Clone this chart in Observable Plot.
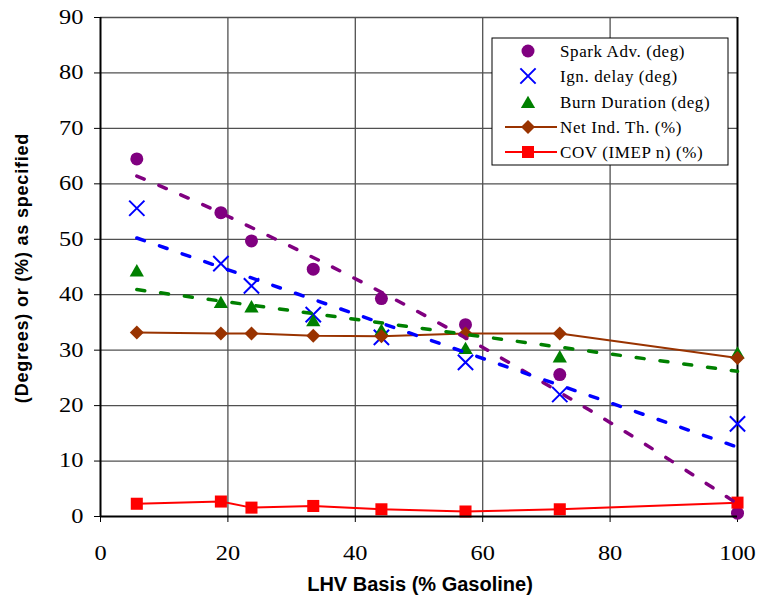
<!DOCTYPE html>
<html><head><meta charset="utf-8">
<script src="https://cdn.jsdelivr.net/npm/d3@7"></script>
<script src="https://cdn.jsdelivr.net/npm/@observablehq/plot@0.6"></script>
<style>body{margin:0;background:#fff} #chart{width:759px;height:599px}</style>
</head><body><div id="chart"></div>
<script>
// ---- data ----
const lhv = [5.7, 18.9, 23.7, 33.4, 44.1, 57.3, 72.1, 100];
const sparkAdv = [64.5, 54.8, 49.7, 44.6, 39.3, 34.6, 25.6, 0.6];
const ignDelay = [55.6, 45.6, 41.6, 36.4, 32.3, 27.8, 22.0, 16.7];
const burnDuration = [44.4, 38.7, 37.9, 35.4, 33.7, 30.4, 28.9, 29.6];
const netIndTh = [33.2, 33.0, 33.0, 32.6, 32.5, 33.0, 33.0, 28.6];
const covImep = [2.3, 2.7, 1.6, 1.9, 1.3, 0.9, 1.3, 2.5];
// polynomial trend line of spark advance
const sparkTrendX = [5.7, 15, 25, 35, 45, 55, 65, 75, 85, 100];
const sparkTrendY = [61.4, 56.8, 51.4, 45.8, 39.9, 33.7, 27.2, 20.4, 13.4, 2.3];
const xTicks = [0, 20, 40, 60, 80, 100];
const yTicks = [0, 10, 20, 30, 40, 50, 60, 70, 80, 90];
const legendLabels = ["Spark Adv. (deg)", "Ign. delay (deg)", "Burn Duration (deg)", "Net Ind. Th. (%)", "COV (IMEP n) (%)"];
const xTitle = "LHV Basis (% Gasoline)";
const yTitle = "(Degrees) or (%) as specified";

const rows = lhv.map((x, i) => ({x, spark: sparkAdv[i], ign: ignDelay[i], burn: burnDuration[i], net: netIndTh[i], cov: covImep[i]}));
const trend = sparkTrendX.map((x, i) => ({x, y: sparkTrendY[i]}));

const PURPLE = "#800080", BLUE = "#0000ff", GREEN = "#008000", BROWN = "#993300", RED = "#ff0000";
const dashStyle = {strokeWidth: 3.5, strokeDasharray: "8,16"};
const SERIF = "Liberation Serif";
const SANS = "Liberation Sans";

const chart = Plot.plot({
  width: 759, height: 599,
  marginLeft: 100, marginRight: 22, marginTop: 17, marginBottom: 83,
  style: {fontFamily: SERIF, fontSize: "20px", color: "#000", background: "#fff"},
  x: {domain: [0, 100], ticks: xTicks, tickSize: 6, tickPadding: 23, label: null},
  y: {domain: [0, 90], ticks: yTicks, tickSize: 6, tickPadding: 11, label: null},
  marks: [
    Plot.ruleX(xTicks.filter(d => d > 0 && d < 100), {stroke: "#505050", strokeWidth: 1.3}),
    Plot.ruleY(yTicks.filter(d => d > 0), {stroke: "#505050", strokeWidth: 1.3}),
    Plot.ruleX([100], {stroke: "#000", strokeWidth: 2}),
    Plot.dot(rows, {x: "x", y: "spark", r: 6.5, fill: PURPLE, stroke: "none", symbol: "circle"}),
    Plot.dot(rows, {x: "x", y: "ign", r: 7, stroke: BLUE, strokeWidth: 2, fill: "none", symbol: "times"}),
    Plot.dot(rows, {x: "x", y: "burn", r: 5.3, fill: GREEN, stroke: "none", symbol: "triangle", dy: 2}),
    Plot.line(rows, {x: "x", y: "net", stroke: BROWN, strokeWidth: 2}),
    Plot.dot(rows, {x: "x", y: "net", r: 6.3, fill: BROWN, stroke: "none", symbol: "diamond2"}),
    Plot.line(rows, {x: "x", y: "cov", stroke: RED, strokeWidth: 2}),
    Plot.dot(rows, {x: "x", y: "cov", r: 6.8, fill: RED, stroke: "none", symbol: "square"}),
    Plot.line(trend, {x: "x", y: "y", curve: "natural", stroke: PURPLE, ...dashStyle}),
    Plot.linearRegressionY(rows, {x: "x", y: "ign", stroke: BLUE, ci: 0, ...dashStyle}),
    Plot.linearRegressionY(rows, {x: "x", y: "burn", stroke: GREEN, ci: 0, ...dashStyle}),
    Plot.ruleX([0], {stroke: "#000", strokeWidth: 2}),
    Plot.ruleY([0], {stroke: "#000", strokeWidth: 2})
  ]
});
document.getElementById("chart").appendChild(chart);

const svg = d3.select(chart);
// Plot's own texts are the tick labels: serif, stretched horizontally like the reference
svg.selectAll("text")
  .attr("font-family", SERIF).style("font-family", SERIF)
  .attr("transform", function() { return (this.getAttribute("transform") || "") + " scale(1.22,1)"; });

// axis titles
svg.append("text").attr("x", 420).attr("y", 591).attr("text-anchor", "middle")
  .style("font-family", SANS).attr("font-weight", "bold").style("font-size", "20px")
  .attr("fill", "#000").text(xTitle);
svg.append("text").attr("transform", "translate(28,268) rotate(-90)").attr("text-anchor", "middle")
  .style("font-family", SANS).attr("font-weight", "bold").style("font-size", "18px")
  .attr("letter-spacing", 0.8).attr("fill", "#000").text(yTitle);

// legend
const lg = svg.append("g");
lg.append("rect").attr("x", 492).attr("y", 38).attr("width", 236).attr("height", 127)
  .attr("fill", "#fff").attr("stroke", "#000").attr("stroke-width", 1);
const rowY = [51, 76, 102, 127, 152];
const mx = 528;
lg.append("path").attr("d", d3.symbol(d3.symbolCircle, Math.PI * 6.5 * 6.5)()).attr("transform", `translate(${mx},${rowY[0]})`).attr("fill", PURPLE);
lg.append("path").attr("d", d3.symbol(d3.symbolTimes, Math.PI * 7 * 7)()).attr("transform", `translate(${mx},${rowY[1]})`).attr("fill", "none").attr("stroke", BLUE).attr("stroke-width", 2);
lg.append("path").attr("d", d3.symbol(d3.symbolTriangle, Math.PI * 5.3 * 5.3)()).attr("transform", `translate(${mx},${rowY[2] + 2})`).attr("fill", GREEN);
lg.append("line").attr("x1", 505).attr("x2", 557).attr("y1", rowY[3]).attr("y2", rowY[3]).attr("stroke", BROWN).attr("stroke-width", 2);
lg.append("path").attr("d", d3.symbol(d3.symbolDiamond2, Math.PI * 6.3 * 6.3)()).attr("transform", `translate(${mx},${rowY[3]})`).attr("fill", BROWN);
lg.append("line").attr("x1", 505).attr("x2", 557).attr("y1", rowY[4]).attr("y2", rowY[4]).attr("stroke", RED).attr("stroke-width", 2);
lg.append("path").attr("d", d3.symbol(d3.symbolSquare, Math.PI * 6.8 * 6.8)()).attr("transform", `translate(${mx},${rowY[4]})`).attr("fill", RED);
legendLabels.forEach((t, i) => {
  lg.append("text").attr("x", 560).attr("y", rowY[i]).attr("dy", "0.35em").attr("text-anchor", "start")
    .style("font-family", SERIF).style("font-size", "17px").attr("letter-spacing", 0.6)
    .attr("fill", "#000").text(t);
});
</script>
</body></html>
